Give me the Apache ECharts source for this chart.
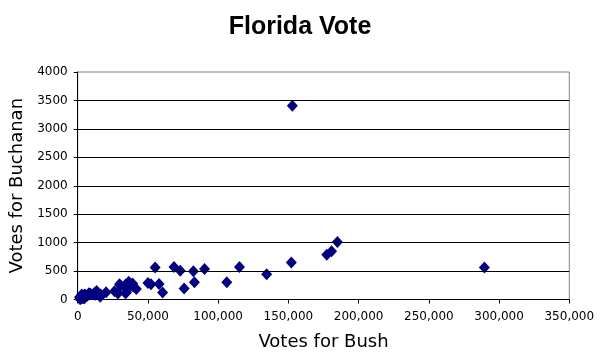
<!DOCTYPE html>
<html>
<head>
<meta charset="utf-8">
<script src="https://cdn.jsdelivr.net/npm/echarts@6/dist/echarts.min.js"></script>
<style>html,body{margin:0;padding:0;background:#fff}#c{width:600px;height:360px}</style>
</head>
<body>
<div id="c"></div>
<script>
// Florida counties: votes for Bush and votes for Buchanan
const counties = ["Alachua","Baker","Bay","Bradford","Brevard","Broward","Calhoun","Charlotte","Citrus","Clay","Collier","Columbia","Dade","De Soto","Dixie","Duval","Escambia","Flagler","Franklin","Gadsden","Gilchrist","Glades","Gulf","Hamilton","Hardee","Hendry","Hernando","Highlands","Hillsborough","Holmes","Indian River","Jackson","Jefferson","Lafayette","Lake","Lee","Leon","Levy","Liberty","Madison","Manatee","Marion","Martin","Monroe","Nassau","Okaloosa","Okeechobee","Orange","Osceola","Palm Beach","Pasco","Pinellas","Polk","Putnam","St. Johns","St. Lucie","Santa Rosa","Sarasota","Seminole","Sumter","Suwannee","Taylor","Union","Volusia","Wakulla","Walton","Washington"];
const bushVotes = [34124,5610,38637,5414,115185,177323,2873,35426,29767,41736,60450,10964,289533,4256,2698,152098,73017,12613,2448,4770,3300,1841,3550,2146,3765,4747,30646,20206,180760,5011,28635,9138,2481,1670,50010,106141,39062,6863,1317,3038,57948,55135,33972,16059,16404,52186,5057,134517,26212,152846,68582,184884,90310,13457,39564,34705,36339,83117,75790,12127,8006,4056,2332,82368,4512,12182,4994];
const buchananVotes = [263,73,248,65,570,788,90,182,270,186,122,89,561,36,29,650,504,83,33,39,29,9,71,23,30,22,242,127,847,76,105,102,29,10,289,305,282,67,39,29,272,563,108,47,90,267,43,446,145,3407,570,1010,538,148,229,124,311,305,194,114,108,27,37,498,46,120,88];
const yGridValues = [500,1000,1500,2000,2500,3000,3500];

const chart = echarts.init(document.getElementById('c'), null, {renderer:'canvas'});
const font = 'DejaVu Sans';
chart.setOption({
  animation: false,
  backgroundColor: '#fff',
  title: {
    text: 'Florida Vote', left: 'center', top: 10,
    textStyle: {fontFamily: 'Liberation Sans', fontWeight: 'bold', fontSize: 25, color: '#000'}
  },
  grid: {left: 77.7, right: 30.7, top: 72, bottom: 60.5, containLabel: false, outerBoundsMode: 'none',
    show: true, borderColor: '#808080', borderWidth: 1, backgroundColor: 'transparent'},
  xAxis: {
    type: 'value', min: 0, max: 350000, interval: 50000,
    name: 'Votes for Bush', nameLocation: 'middle', nameGap: 34,
    nameTextStyle: {fontFamily: font, fontSize: 18, color: '#000'},
    axisLine: {show: true, lineStyle: {color: '#000', width: 1}},
    axisTick: {show: true, length: 4, lineStyle: {color: '#000'}},
    axisLabel: {fontFamily: font, fontSize: 12, color: '#000', margin: 11, hideOverlap: false,
      formatter: v => v.toLocaleString('en-US')},
    splitLine: {show: false}
  },
  yAxis: {
    type: 'value', min: 0, max: 4000, interval: 500,
    name: 'Votes for Buchanan', nameLocation: 'middle', nameGap: 49,
    nameTextStyle: {fontFamily: font, fontSize: 18, color: '#000'},
    axisLine: {show: true, lineStyle: {color: '#000', width: 1}},
    axisTick: {show: true, length: 4, lineStyle: {color: '#000'}},
    axisLabel: {fontFamily: font, fontSize: 12, color: '#000', margin: 10, formatter: v => String(v)},
    splitLine: {show: false}
  },
  series: [{
    type: 'scatter',
    symbol: 'diamond',
    symbolSize: [11, 12],
    itemStyle: {color: '#000080', opacity: 1},
    data: bushVotes.map((b, i) => [b, buchananVotes[i], counties[i]]),
    markLine: {
      silent: true, symbol: 'none', label: {show: false},
      lineStyle: {color: '#000', width: 1, type: 'solid', opacity: 1},
      data: yGridValues.map(v => ({yAxis: v}))
    },
    z: 3
  }]
});
</script>
</body>
</html>
